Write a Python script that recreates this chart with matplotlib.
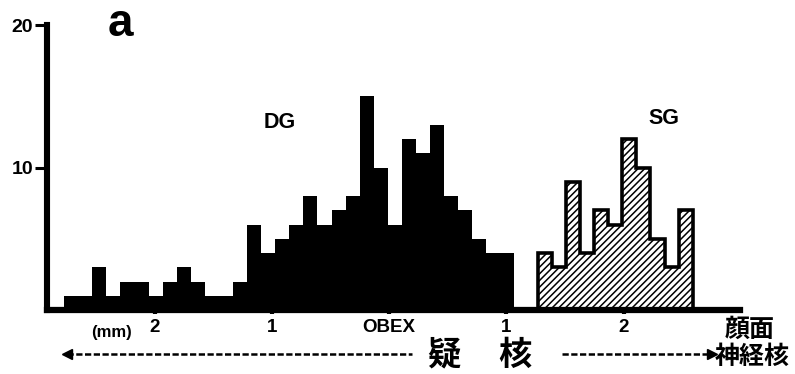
import numpy as np
import matplotlib
matplotlib.use("Agg")
import matplotlib.pyplot as plt
from matplotlib.lines import Line2D

# distance from obex (mm, caudal side negative), bin width 0.12 mm
bin_mm = 0.12
dg_start = -2.89
sg_start = 1.27

# cell counts per bin
dg_counts = [0, 1, 1, 3, 1, 2, 2, 1, 2, 3, 2, 1, 1, 2, 6, 4, 5,
             6, 8, 6, 7, 8, 15, 10, 6, 12, 11, 13, 8, 7, 5, 4, 4]
sg_counts = [4, 3, 9, 4, 7, 6, 12, 10, 5, 3, 7]

tick_mm = [-2, -1, 0, 1, 2]
tick_labels = ["2", "1", "OBEX", "1", "2"]
y_ticks = [10, 20]

W, H = 795, 374
bold = dict(family="Liberation Sans", weight="bold", color="black")
cjk = dict(family=["Noto Sans CJK JP", "DejaVu Sans"], weight="bold", color="black")


def px(x, y):
    # figure pixel (from top-left) -> figure fraction
    return x / W, 1 - y / H


plt.rcParams["hatch.linewidth"] = 1.1

fig = plt.figure(figsize=(W / 100, H / 100), dpi=100)
ax = fig.add_axes([46.5 / W, (H - 310) / H, (740 - 46.5) / W, (310 - 25) / H])

dg_edges = dg_start + bin_mm * np.arange(len(dg_counts) + 1)
sg_edges = sg_start + bin_mm * np.arange(len(sg_counts) + 1)

# DG: solid black histogram
ax.stairs(dg_counts, dg_edges, fill=True, color="black", lw=0)

# SG: hatched histogram with a black step outline
ax.stairs(sg_counts, sg_edges, fill=True, facecolor="white",
          edgecolor="black", hatch="/////", lw=0)
ax.stairs(sg_counts, sg_edges, baseline=0, color="black", lw=2.6)

ax.set_xlim((46.5 - 389) / 117.25, (740 - 389) / 117.25)
ax.set_ylim(0, 20)

for s in ["top", "right"]:
    ax.spines[s].set_visible(False)
ax.spines["left"].set_linewidth(4.4)
ax.spines["bottom"].set_linewidth(4.5)
ax.spines["left"].set_capstyle("projecting")
ax.spines["bottom"].set_capstyle("projecting")

ax.set_yticks(y_ticks)
ax.set_yticklabels([str(v) for v in y_ticks], **bold, fontsize=14)
ax.tick_params(axis="y", length=9, width=2.2, pad=0.5)

ax.set_xticks(tick_mm)
ax.set_xticklabels(tick_labels, **bold, fontsize=13.5)
ax.tick_params(axis="x", length=3, width=3, pad=3.5)

# panel letter and group labels
fig.text(*px(120, 24), "a", **bold, fontsize=33, ha="center", va="center")
fig.text(*px(280, 123), "DG", **bold, fontsize=15.5, ha="center", va="center")
fig.text(*px(664, 119), "SG", **bold, fontsize=15.5, ha="center", va="center")
fig.text(*px(112, 332), "(mm)", **bold, fontsize=12, ha="center", va="center")

# nucleus ambiguus span with arrows to either side
fig.add_artist(Line2D(*zip(px(67, 354), px(412, 354)), color="black", lw=1.8,
                      ls=(0, (2.5, 1)), marker="<", markevery=[0], ms=7))
fig.add_artist(Line2D(*zip(px(562, 354), px(712, 354)), color="black", lw=1.8,
                      ls=(0, (2.5, 1)), marker=">", markevery=[1], ms=7))
fig.text(*px(444, 355), "疑", **cjk, fontsize=24, ha="center", va="center")
fig.text(*px(515, 355), "核", **cjk, fontsize=24, ha="center", va="center")
fig.text(*px(750, 330), "顔面", **cjk, fontsize=18, ha="center", va="center")
fig.text(*px(752, 357), "神経核", **cjk, fontsize=18, ha="center", va="center")

fig.savefig("out.png", dpi=100)
